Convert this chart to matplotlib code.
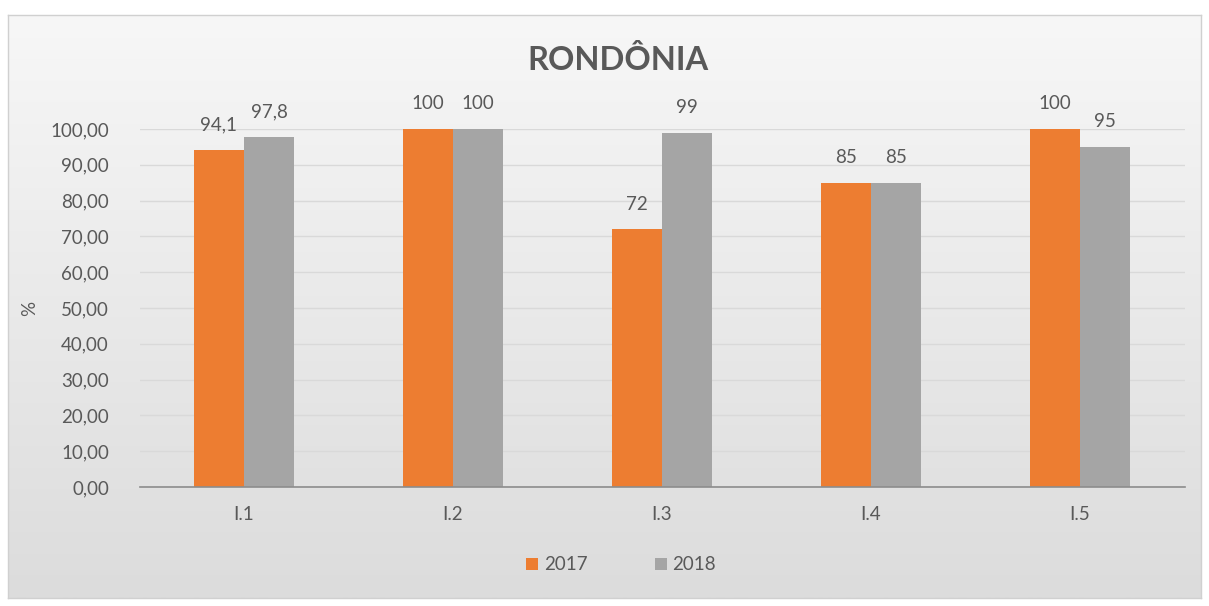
import matplotlib
matplotlib.use("Agg")
import matplotlib.pyplot as plt
import numpy as np
from matplotlib.colors import LinearSegmentedColormap

categories = ["I.1", "I.2", "I.3", "I.4", "I.5"]
values_2017 = [94.1, 100, 72, 85, 100]
values_2018 = [97.8, 100, 99, 85, 95]
labels_2017 = ["94,1", "100", "72", "85", "100"]
labels_2018 = ["97,8", "100", "99", "85", "95"]
yticks = [0, 10, 20, 30, 40, 50, 60, 70, 80, 90, 100]
ytick_labels = ["0,00", "10,00", "20,00", "30,00", "40,00", "50,00",
                "60,00", "70,00", "80,00", "90,00", "100,00"]

ORANGE = "#ED7D31"
GRAY = "#A5A5A5"
TXT = "#595959"
FONT = "Lato"
FS = 13.5

W, H = 1209, 606
fig = plt.figure(figsize=(W / 100, H / 100), dpi=100)
fig.patch.set_facecolor("white")

# background frame with gradient
bg = fig.add_axes([8 / W, (H - 598) / H, (1201 - 8) / W, (598 - 15) / H])
grad = np.linspace(0, 1, 256).reshape(-1, 1)
cmap = LinearSegmentedColormap.from_list("g", ["#F7F7F7", "#DCDCDC"])
bg.imshow(grad, aspect="auto", cmap=cmap, extent=[0, 1, 0, 1], origin="upper")
bg.set_xlim(0, 1)
bg.set_ylim(0, 1)
for s in bg.spines.values():
    s.set_color("#D0D0D0")
    s.set_linewidth(1)
bg.set_xticks([])
bg.set_yticks([])
bg.set_zorder(0)

ax = fig.add_axes([139.5 / W, (H - 487) / H, 1045 / W, (487 - 129) / H])
ax.set_zorder(1)
ax.patch.set_alpha(0)

x = np.arange(len(categories))
bw = 0.24
b1 = ax.bar(x - bw / 2, values_2017, bw, color=ORANGE, label="2017", zorder=3)
b2 = ax.bar(x + bw / 2, values_2018, bw, color=GRAY, label="2018", zorder=3)

for bars, labs in ((b1, labels_2017), (b2, labels_2018)):
    for rect, lab in zip(bars, labs):
        ax.annotate(lab, (rect.get_x() + rect.get_width() / 2, rect.get_height()),
                    xytext=(0, 12), textcoords="offset points", ha="center",
                    va="bottom", fontsize=FS, color=TXT, family=FONT)

ax.set_xlim(-0.5, len(categories) - 0.5)
ax.set_ylim(0, 100)
ax.set_yticks(yticks)
ax.set_yticklabels(ytick_labels, fontsize=FS, color=TXT, family=FONT)
ax.set_xticks(x)
ax.set_xticklabels(categories, fontsize=FS, color=TXT, family=FONT)
ax.tick_params(axis="both", length=0)
ax.tick_params(axis="y", pad=22)
ax.tick_params(axis="x", pad=14)
ax.yaxis.grid(True, color="#D9D9D9", linewidth=1, zorder=0)
ax.set_axisbelow(True)
for side in ["top", "right", "left"]:
    ax.spines[side].set_visible(False)
ax.spines["bottom"].set_color("#8C8C8C")
ax.spines["bottom"].set_linewidth(1.2)
ax.spines["bottom"].set_zorder(4)

fig.text(30 / W, 1 - 308 / H, "%", rotation=90, ha="center", va="center",
         fontsize=FS, color=TXT, family=FONT)

fig.text(618 / W, 1 - 60 / H, "RONDÔNIA", ha="center", va="center",
         fontsize=23.5, fontweight="bold", color=TXT, family=FONT)

leg = fig.legend(handles=[b1, b2], labels=["2017", "2018"], loc="center",
                 bbox_to_anchor=(621 / W, 1 - 565 / H), ncol=2, frameon=False,
                 prop={"family": FONT, "size": FS}, handlelength=0.65,
                 handleheight=0.65, handletextpad=0.3, columnspacing=3.6)
for t in leg.get_texts():
    t.set_color(TXT)

fig.savefig("out.png", dpi=100)
